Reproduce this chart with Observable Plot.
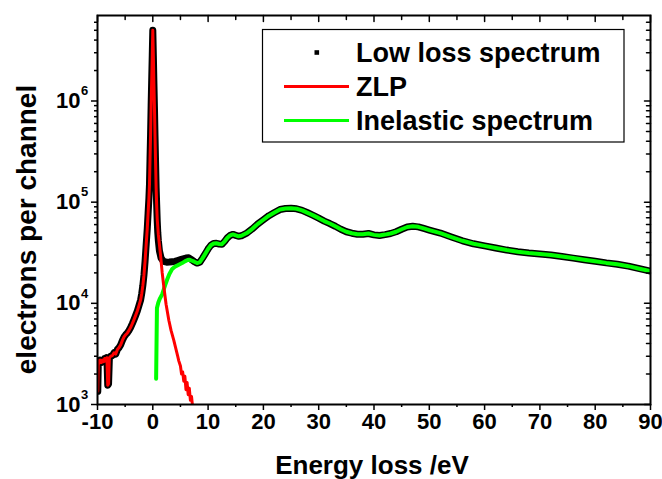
<!DOCTYPE html>
<html><head><meta charset="utf-8">
<script src="https://cdn.jsdelivr.net/npm/d3@7"></script>
<script src="https://cdn.jsdelivr.net/npm/@observablehq/plot@0.6"></script>
<style>body{margin:0;background:#fff} #chart svg{display:block}</style>
</head><body><div id="chart"></div>
<script>
// Low loss spectrum (black squares): energy (eV) and electrons per channel
const lowLossE = [-10,-9.95,-9.85,-9.7,-9.5,-9.3,-9.1,-8.9,-8.7,-8.5,-8.3,-8.15,-8.0,-7.85,-7.6,-7.3,-7.0,-6.7,-6.4,-6.1,-5.8,-5.5,-5.2,-4.9,-4.6,-4.3,-4.0,-3.7,-3.4,-3.1,-2.8,-2.5,-2.2,-2.0,-1.8,-1.6,-1.4,-1.2,-1.0,-0.85,-0.7,-0.6,-0.5,-0.4,-0.3,-0.2,-0.1,0,0.1,0.2,0.3,0.4,0.5,0.6,0.7,0.8,0.9,1.0,1.2,1.5,1.8,2.1,2.5,3.0,3.5,4.0,4.5,5.0,5.5,6.0,6.5,7.0,7.5,8.0,8.5,9.0,9.5,10,10.5,11,11.5,12,12.5,13,13.5,14,14.5,15,15.5,16,17,18,19,20,21,22,23,24,25,26,27,28,29,30,31,32,33,34,35,36,37,38,39,40,41,42,43,44,45,46,47,48,49,50,52,54,56,58,60,62,64,66,68,70,72,74,76,78,80,82,84,86,88,90];
const lowLossCounts = [2600,1350,2700,2550,2750,2600,2750,2650,2850,2700,2900,1550,1600,2900,3000,3050,3250,3150,3500,3650,3900,4300,4650,4900,5100,5400,5800,6300,6900,7600,8400,9500,10800,12500,15000,19000,26000,38000,55000,78000,110000,150000,270000,470000,900000,1600000,2800000,5000000,2800000,1500000,850000,450000,250000,140000,95000,65000,50000,42000,33000,28000,26500,25800,25500,25600,25800,26000,26500,27000,27500,28000,28200,27000,25800,25000,25500,28000,31000,34500,37500,39000,39200,38600,38400,41000,44500,47000,48000,47000,46000,46500,49500,54500,61000,67000,73500,79000,84500,86500,87000,86000,83000,78500,74000,69500,65000,61500,57800,54000,51000,49300,48200,48200,49000,47500,46800,47800,49000,51000,54000,56800,57800,57000,55000,53000,49500,45200,41500,38800,37000,35200,33600,32400,31500,30800,30000,29000,28000,27000,26100,25100,24300,23300,22000,20800];

// Inelastic spectrum (green): onset part, then it follows the low loss spectrum
const inelasticE = [0.6,0.75,1.0,1.3,1.7,2.0,2.3,2.6,3.0,3.5,4.0,4.7,5.3,5.8,6.3,6.6,7.0];
const inelasticCounts = [1800,9000,10200,11200,12300,13800,15500,17200,19500,21800,23000,24100,25000,26000,26800,27000,26500];

// ZLP (red): follows the low loss spectrum up to 0.6 eV, then this tail
const zlpTailE = [0.7,0.8,1.0,1.2,1.4,1.7,2.0,2.4,2.9,3.3,3.8,4.2,4.5,4.7,5.0,5.2,5.4,5.6,5.8,6.0,6.2,6.4,6.6,6.8,7.0,7.2,7.5];
const zlpTailCounts = [92000,68000,48000,38000,30000,20000,14500,9800,6800,5400,4300,3500,3000,2700,2400,2000,2100,1700,1900,1400,1650,1250,1450,1100,1200,950,900];

const xMajor = [-10,0,10,20,30,40,50,60,70,80,90];
const xMinor = [-5,5,15,25,35,45,55,65,75,85];
const yMajor = [1e3,1e4,1e5,1e6];
const yMinor = [2e3,3e3,4e3,5e3,6e3,7e3,8e3,9e3,2e4,3e4,4e4,5e4,6e4,7e4,8e4,9e4,2e5,3e5,4e5,5e5,6e5,7e5,8e5,9e5,2e6,3e6,4e6,5e6,6e6];

const lowLoss = lowLossE.map((e, i) => ({e, c: lowLossCounts[i]}));
const inelastic = inelasticE.map((e, i) => ({e, c: inelasticCounts[i]}))
  .concat(lowLoss.filter(d => d.e > 7.0));
const zlp = lowLoss.filter(d => d.e <= 0.6)
  .concat(zlpTailE.map((e, i) => ({e, c: zlpTailCounts[i]})));

const FONT = "'Liberation Sans', Arial, sans-serif";
const tickOpts = {stroke: "black", strokeWidth: 1.5};
const tickShape = {draw(context, l) { context.moveTo(0, 0); context.lineTo(0, -l); }};

const chart = Plot.plot({
  width: 662, height: 479,
  marginLeft: 97, marginRight: 12, marginTop: 15, marginBottom: 75,
  style: {fontFamily: FONT, fontWeight: "bold", fontSize: "20px", background: "white", color: "black"},
  x: {domain: [-10, 90], label: null},
  y: {type: "log", domain: [1e3, 7e6], label: null},
  marks: [
    Plot.line(lowLoss, {x: "e", y: "c", stroke: "black", strokeWidth: 7, strokeLinejoin: "round", clip: true}),
    Plot.dot(lowLoss, {x: "e", y: "c", symbol: "square", r: 2.6, fill: "black", clip: true}),
    Plot.line(inelastic, {x: "e", y: "c", stroke: "#00ff00", strokeWidth: 4, strokeLinejoin: "round", clip: true}),
    Plot.line(zlp, {x: "e", y: "c", stroke: "#ff0000", strokeWidth: 3, strokeLinejoin: "round", clip: true}),
    Plot.frame({stroke: "black", strokeWidth: 2}),
    // bottom axis (outward ticks)
    Plot.axisX({ticks: xMajor, tickSize: 6, tickPadding: 3, tickFormat: d => String(d), fontSize: 22, fontWeight: "bold", ...tickOpts}),
    Plot.axisX({ticks: xMinor, tickSize: 3, text: null, ...tickOpts}),
    // top mirror (inward ticks)
    Plot.vector(xMajor, {x: d => d, frameAnchor: "top", length: 6, rotate: 180, anchor: "start", shape: tickShape, ...tickOpts}),
    Plot.vector(xMinor, {x: d => d, frameAnchor: "top", length: 4, rotate: 180, anchor: "start", shape: tickShape, ...tickOpts}),
    // left axis (outward ticks)
    Plot.axisY({ticks: yMajor, tickSize: 6, text: null, ...tickOpts}),
    Plot.axisY({ticks: yMinor, tickSize: 3, text: null, ...tickOpts}),
    Plot.text(yMajor, {y: d => d, text: () => "10", frameAnchor: "left", textAnchor: "end", dx: -17, fontSize: 22, fontWeight: "bold"}),
    Plot.text(yMajor, {y: d => d, text: d => String(Math.round(Math.log10(d))), frameAnchor: "left", textAnchor: "start", dx: -16.5, dy: -10, fontSize: 13, fontWeight: "bold"}),
    // right mirror (inward ticks)
    Plot.vector(yMajor, {y: d => d, frameAnchor: "right", length: 6, rotate: 270, anchor: "start", shape: tickShape, ...tickOpts}),
    Plot.vector(yMinor, {y: d => d, frameAnchor: "right", length: 4, rotate: 270, anchor: "start", shape: tickShape, ...tickOpts}),
    // axis titles
    Plot.text(["Energy loss /eV"], {text: d => d, frameAnchor: "bottom", textAnchor: "middle", dx: -2, dy: 61, fontSize: 26, fontWeight: "bold", lineAnchor: "middle"}),
    Plot.text(["electrons per channel"], {text: d => d, frameAnchor: "left", textAnchor: "middle", rotate: -90, dx: -70, dy: 19.5, fontSize: 28, fontWeight: "bold", lineAnchor: "middle"})
  ]
});

// Legend
const svg = d3.select(chart);
const lg = svg.append("g").attr("font-family", FONT).attr("font-weight", "bold").attr("font-size", 27).attr("text-anchor", "start");
lg.append("rect").attr("x", 262.5).attr("y", 29.5).attr("width", 361.5).attr("height", 112.5)
  .attr("fill", "white").attr("stroke", "black").attr("stroke-width", 1.2);
const legendItems = [
  {label: "Low loss spectrum", kind: "square", color: "black"},
  {label: "ZLP", kind: "line", color: "#ff0000"},
  {label: "Inelastic spectrum", kind: "line", color: "#00ff00"}
];
legendItems.forEach((it, i) => {
  const cy = 52.5 + i * 34;
  if (it.kind === "square") {
    lg.append("rect").attr("x", 314.5).attr("y", cy - 2.3).attr("width", 4.6).attr("height", 4.6).attr("fill", it.color);
  } else {
    lg.append("line").attr("x1", 284).attr("x2", 349).attr("y1", cy).attr("y2", cy)
      .attr("stroke", it.color).attr("stroke-width", 3);
  }
  lg.append("text").attr("x", 356).attr("y", cy + 9.8).attr("fill", "black").attr("text-anchor", "start").text(it.label);
});

document.getElementById("chart").appendChild(chart);
</script>
</body></html>
